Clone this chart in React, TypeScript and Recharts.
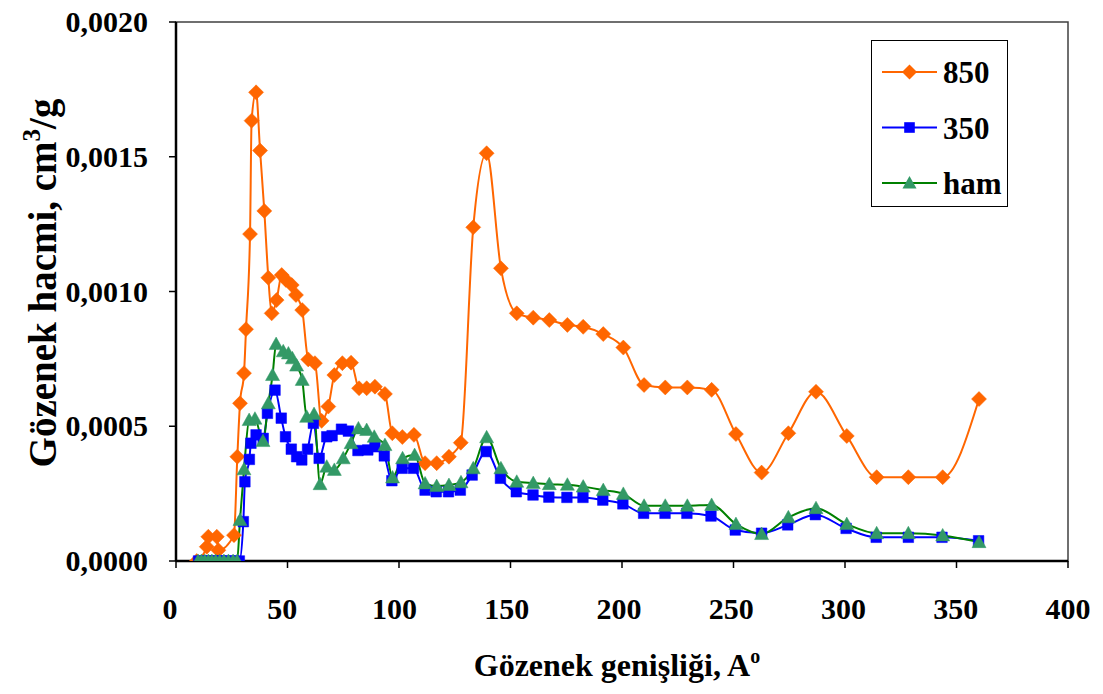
import React from 'react';
import { LineChart, Line, XAxis, YAxis, ReferenceArea, Legend, Label } from 'recharts';

// ---- data ----
const x850 = [9.3, 13.8, 14.5, 18.3, 19.0, 26.0, 27.5, 28.7, 30.5, 31.4, 33.2, 33.9, 35.9, 37.7, 39.6, 41.4, 42.9, 45.1, 47.4, 49.3, 51.9, 53.8, 56.6, 59.3, 62.3, 65.3, 68.3, 71.0, 74.6, 78.5, 82.1, 85.5, 89.2, 93.7, 97.0, 101.5, 106.7, 111.7, 116.9, 122.4, 127.7, 133.3, 139.3, 145.7, 152.8, 160.2, 167.4, 175.5, 182.6, 191.6, 200.6, 209.9, 219.4, 229.3, 240.2, 251.1, 262.6, 274.6, 287.0, 300.8, 314.2, 328.4, 343.8, 360.1];
const y850 = [0, 0.000053, 0.00009, 0.00009, 0.00004, 0.000096, 0.000387, 0.000585, 0.000697, 0.00086, 0.001213, 0.001634, 0.001739, 0.001523, 0.001299, 0.001051, 0.000919, 0.000968, 0.001061, 0.001043, 0.001024, 0.000987, 0.000931, 0.000748, 0.000734, 0.00052, 0.000573, 0.00069, 0.000734, 0.000736, 0.000641, 0.000641, 0.000647, 0.00062, 0.000474, 0.00046, 0.000468, 0.000363, 0.000363, 0.000387, 0.000439, 0.001238, 0.001513, 0.001086, 0.000919, 0.000903, 0.000894, 0.000876, 0.000869, 0.000842, 0.000792, 0.000653, 0.000644, 0.000644, 0.000635, 0.000471, 0.000328, 0.000474, 0.000628, 0.000464, 0.000311, 0.000311, 0.000311, 0.000601];

const x350 = [10.1, 11.6, 13.2, 14.8, 16.5, 18.2, 20.0, 21.9, 23.8, 25.8, 28.4, 30.2, 30.9, 32.9, 33.6, 35.9, 39.1, 41.0, 44.4, 47.2, 49.1, 51.7, 54.1, 56.4, 59.0, 61.6, 64.2, 67.6, 70.0, 74.2, 77.3, 81.6, 86.0, 89.2, 93.4, 96.8, 101.4, 106.5, 111.7, 116.7, 122.2, 127.5, 132.8, 139.1, 145.5, 152.6, 160.1, 167.2, 175.3, 182.5, 191.4, 200.4, 209.7, 219.3, 229.1, 239.9, 250.8, 262.6, 274.3, 286.7, 300.5, 314.0, 328.4, 343.5, 359.9];
const y350 = [0, 0, 0, 0, 0, 0, 0, 0, 0, 0, 0, 0.000146, 0.000294, 0.000377, 0.000437, 0.000468, 0.000455, 0.000548, 0.000634, 0.00053, 0.000461, 0.000415, 0.000387, 0.000375, 0.000415, 0.000511, 0.000381, 0.000461, 0.000465, 0.000489, 0.000482, 0.00041, 0.000412, 0.000424, 0.00039, 0.000298, 0.000344, 0.000344, 0.000263, 0.000257, 0.000257, 0.000263, 0.000319, 0.000406, 0.000307, 0.000257, 0.000245, 0.000237, 0.000236, 0.000236, 0.000226, 0.000212, 0.000177, 0.000177, 0.000177, 0.000167, 0.000115, 0.000103, 0.000134, 0.000172, 0.000121, 0.000088, 0.000088, 0.000088, 0.000075];

const xHam = [9.9, 11.4, 12.9, 14.5, 16.1, 17.8, 19.6, 21.5, 23.5, 25.6, 27.4, 28.7, 30.5, 32.8, 35.4, 39.0, 41.4, 43.3, 44.9, 48.1, 50.4, 52.2, 54.1, 56.6, 58.6, 61.9, 64.6, 67.6, 71.0, 75.0, 78.5, 81.8, 85.5, 88.9, 93.7, 97.1, 101.6, 107.0, 111.7, 116.9, 122.4, 127.8, 133.3, 139.3, 145.7, 152.8, 160.2, 167.4, 175.5, 182.6, 191.6, 200.6, 209.9, 219.4, 229.3, 240.2, 251.1, 262.6, 274.6, 287.0, 300.8, 314.2, 328.4, 343.8, 360.1];
const yHam = [0, 0, 0, 0, 0, 0, 0, 0, 0, 0, 0, 0.000152, 0.00034, 0.000523, 0.000528, 0.000445, 0.000585, 0.00069, 0.000805, 0.000778, 0.00077, 0.000752, 0.000725, 0.000672, 0.000535, 0.000545, 0.000285, 0.00035, 0.000338, 0.000381, 0.000437, 0.000492, 0.000486, 0.000461, 0.00043, 0.00031, 0.000381, 0.000393, 0.000288, 0.000278, 0.000282, 0.000292, 0.000344, 0.000459, 0.000344, 0.000294, 0.000289, 0.000285, 0.000283, 0.000276, 0.000263, 0.000249, 0.000205, 0.000205, 0.000205, 0.000208, 0.000137, 0.0001, 0.000162, 0.000196, 0.000137, 0.000103, 0.000103, 0.000095, 0.00007];

const xTicks = [0, 50, 100, 150, 200, 250, 300, 350, 400];
const yTicks = [0, 0.0005, 0.001, 0.0015, 0.002];
const seriesNames = ['850', '350', 'ham'];

const toRows = (xs: number[], ys: number[]) => xs.map((x, i) => ({ x, y: ys[i] }));
const d850 = toRows(x850, y850);
const d350 = toRows(x350, y350);
const dHam = toRows(xHam, yHam);

const FONT = '"Liberation Serif", "Times New Roman", serif';
const ORANGE = '#FF6600';
const BLUE = '#0000FF';
const GREEN_LINE = '#008000';
const GREEN_FILL = '#339966';

const diamondPath = (cx: number, cy: number, r: number) => `M${cx},${cy - r}L${cx + r},${cy}L${cx},${cy + r}L${cx - r},${cy}Z`;
const squarePath = (cx: number, cy: number, s: number) => `M${cx - s},${cy - s}H${cx + s}V${cy + s}H${cx - s}Z`;
const trianglePath = (cx: number, cy: number) => `M${cx},${cy - 7}L${cx + 7},${cy + 5.5}L${cx - 7},${cy + 5.5}Z`;

const DiamondDot = (p: any) => {
  if (p.cx == null || p.cy == null) return <g key={`o-${p.index}`} />;
  return <path key={`o-${p.index}`} d={diamondPath(p.cx, p.cy, 7.5)} fill={ORANGE} stroke={ORANGE} strokeWidth={0.5} />;
};
const SquareDot = (p: any) => {
  if (p.cx == null || p.cy == null) return <g key={`b-${p.index}`} />;
  return <path key={`b-${p.index}`} d={squarePath(p.cx, p.cy, 5.3)} fill={BLUE} stroke={BLUE} strokeWidth={0.5} />;
};
const TriangleDot = (p: any) => {
  if (p.cx == null || p.cy == null) return <g key={`g-${p.index}`} />;
  return <path key={`g-${p.index}`} d={trianglePath(p.cx, p.cy)} fill={GREEN_FILL} stroke={GREEN_FILL} strokeWidth={0.5} />;
};

const XTick = (p: any) => {
  const v = Number(p.payload.value);
  const shift = -6 * (1 - v / 400);
  return (
    <text x={p.x + shift} y={619} textAnchor="middle" fontFamily={FONT} fontWeight="bold" fontSize={30} fill="#000">
      {p.payload.value}
    </text>
  );
};
const YTick = (p: any) => (
  <text x={148} y={p.y} dy={10} textAnchor="end" fontFamily={FONT} fontWeight="bold" fontSize={30} fill="#000">
    {Number(p.payload.value).toFixed(4).replace('.', ',')}
  </text>
);

const LegendBox = () => {
  const rows = [
    { name: seriesNames[0], color: ORANGE, marker: (cx: number, cy: number) => <path d={diamondPath(cx, cy, 7.5)} fill={ORANGE} /> },
    { name: seriesNames[1], color: BLUE, marker: (cx: number, cy: number) => <path d={squarePath(cx, cy, 5.3)} fill={BLUE} /> },
    { name: seriesNames[2], color: GREEN_LINE, marker: (cx: number, cy: number) => <path d={trianglePath(cx, cy)} fill={GREEN_FILL} /> },
  ];
  return (
    <svg width={137} height={167} style={{ display: 'block' }}>
      <rect x={0.5} y={0.5} width={136} height={166} fill="#fff" stroke="#000" strokeWidth={1} />
      {rows.map((r, i) => {
        const cy = 32 + i * 55.5;
        return (
          <g key={r.name}>
            <line x1={11} x2={66} y1={cy} y2={cy} stroke={r.color} strokeWidth={2} />
            {r.marker(38.5, cy)}
            <text x={72} y={cy + 11} fontFamily={FONT} fontWeight="bold" fontSize={31} fill="#000">{r.name}</text>
          </g>
        );
      })}
    </svg>
  );
};

export default function App() {
  return (
    <div style={{ position: 'absolute', left: 0, top: 0, width: 1103, height: 694, background: '#fff' }}>
      <LineChart width={1103} height={694} margin={{ top: 22, right: 35, left: 0, bottom: 0 }}>
        <ReferenceArea x1={0} x2={400} y1={0} y2={0.002} fill="none" stroke="#404040" strokeWidth={1.5} ifOverflow="visible" />
        <XAxis
          dataKey="x"
          type="number"
          domain={[0, 400]}
          ticks={xTicks}
          allowDataOverflow
          height={133}
          stroke="#000"
          axisLine={{ stroke: '#000', strokeWidth: 2.5 }}
          tickLine={{ stroke: '#000', strokeWidth: 1.5 }}
          tickSize={7}
          tick={<XTick />}
          interval={0}
        >
          <Label
            content={() => (
              <text x={617} y={676} textAnchor="middle" fontFamily={FONT} fontWeight="bold" fontSize={32} fill="#000">
                Gözenek genişliği, A<tspan dy={-13} fontSize={20}>o</tspan>
              </text>
            )}
          />
        </XAxis>
        <YAxis
          type="number"
          domain={[0, 0.002]}
          ticks={yTicks}
          allowDataOverflow
          width={176}
          stroke="#000"
          axisLine={{ stroke: '#000', strokeWidth: 2.5 }}
          tickLine={{ stroke: '#000', strokeWidth: 1.5 }}
          tickSize={7}
          tick={<YTick />}
          interval={0}
        >
          <Label
            content={() => (
              <text transform="translate(56,283) rotate(-90)" textAnchor="middle" fontFamily={FONT} fontWeight="bold" fontSize={39} fill="#000">
                Gözenek hacmi, cm<tspan dy={-16} fontSize={25}>3</tspan><tspan dy={16}>/g</tspan>
              </text>
            )}
          />
        </YAxis>
        <Line data={d850} dataKey="y" name={seriesNames[0]} type="monotone" stroke={ORANGE} strokeWidth={2} dot={DiamondDot} activeDot={false} isAnimationActive={false} />
        <Line data={d350} dataKey="y" name={seriesNames[1]} type="monotone" stroke={BLUE} strokeWidth={2} dot={SquareDot} activeDot={false} isAnimationActive={false} />
        <Line data={dHam} dataKey="y" name={seriesNames[2]} type="monotone" stroke={GREEN_LINE} strokeWidth={2} dot={TriangleDot} activeDot={false} isAnimationActive={false} />
        <Legend
          layout="vertical"
          align="center"
          verticalAlign="middle"
          content={() => <LegendBox />}
          wrapperStyle={{ position: 'absolute', left: 871, top: 40, width: 137, height: 167 }}
        />
      </LineChart>
    </div>
  );
}
